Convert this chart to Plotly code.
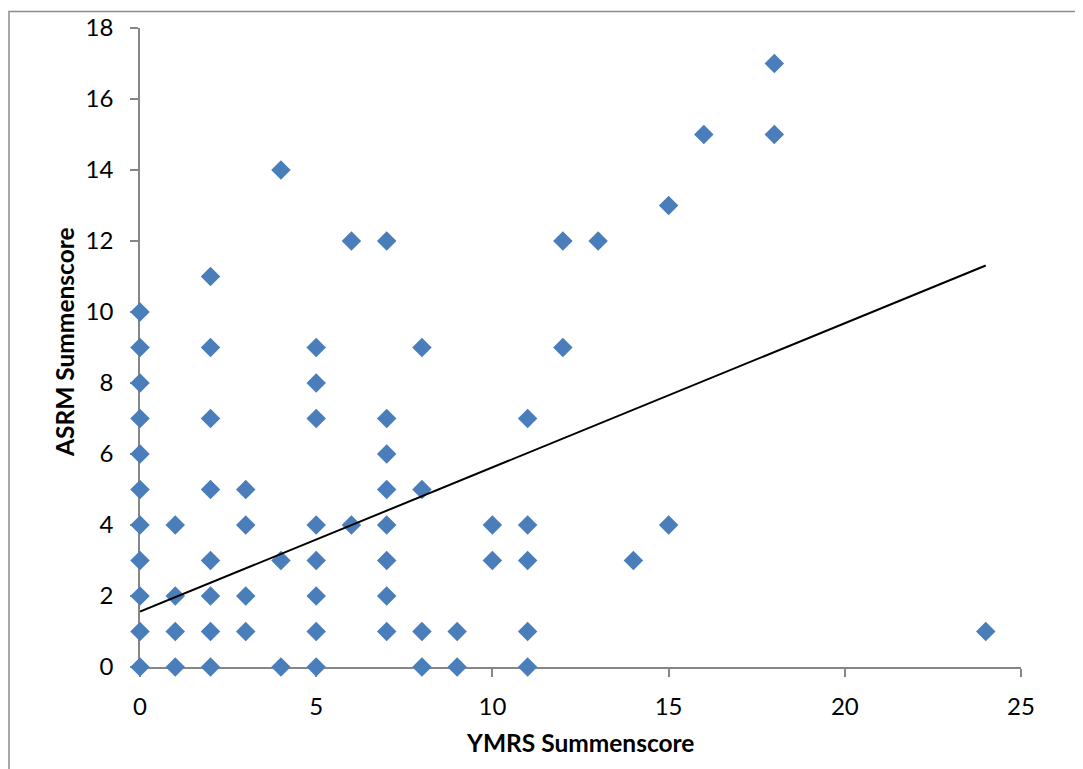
import plotly.graph_objects as go

# Data
ymrs = [0, 0, 0, 0, 0, 0, 0, 0, 0, 0, 0,
        1, 1, 1, 1,
        2, 2, 2, 2, 2, 2, 2, 2,
        3, 3, 3, 3,
        4, 4, 4,
        5, 5, 5, 5, 5, 5, 5, 5,
        6, 6,
        7, 7, 7, 7, 7, 7, 7, 7,
        8, 8, 8, 8,
        9, 9,
        10, 10,
        11, 11, 11, 11, 11,
        12, 12,
        13,
        14,
        15, 15,
        16,
        18, 18,
        24]
asrm = [0, 1, 2, 3, 4, 5, 6, 7, 8, 9, 10,
        0, 1, 2, 4,
        0, 1, 2, 3, 5, 7, 9, 11,
        1, 2, 4, 5,
        0, 3, 14,
        0, 1, 2, 3, 4, 7, 8, 9,
        4, 12,
        1, 2, 3, 4, 5, 6, 7, 12,
        0, 1, 5, 9,
        0, 1,
        3, 4,
        0, 1, 3, 4, 7,
        9, 12,
        12,
        3,
        4, 13,
        15,
        15, 17,
        1]

trend_x = [0, 24]
trend_y = [1.56, 11.31]

x_ticks = [0, 5, 10, 15, 20, 25]
y_ticks = [0, 2, 4, 6, 8, 10, 12, 14, 16, 18]

x_title = "YMRS Summenscore"
y_title = "ASRM Summenscore"

FONT = "Lato, 'Open Sans', sans-serif"
AXIS_COLOR = "#868686"

OFF = 8  # page body margin
W, H = 1083, 769
L = 140 - OFF
T = 28 - OFF
R = W - (1021 - OFF)
B = H - (667 - OFF)
pw, ph = W - L - R, H - T - B


def px_x(p):
    return (p - OFF - L) / pw


def px_y(p):
    return (H - B - (p - OFF)) / ph


fig = go.Figure()
fig.add_trace(go.Scatter(
    x=ymrs, y=asrm, mode="markers",
    marker=dict(symbol="diamond", size=15, color="#4A7EBB",
                line=dict(width=0)),
    cliponaxis=False, showlegend=False, hoverinfo="x+y"))
fig.add_trace(go.Scatter(
    x=trend_x, y=trend_y, mode="lines",
    line=dict(color="black", width=2),
    cliponaxis=False, showlegend=False))

fig.update_layout(
    width=W, height=H,
    margin=dict(l=L, r=R, t=T, b=B, autoexpand=False),
    paper_bgcolor="white", plot_bgcolor="white",
    font=dict(family=FONT, size=24, color="black"),
    xaxis=dict(range=[0, 25], tickvals=x_ticks, showgrid=False, zeroline=False,
               showline=True, linecolor=AXIS_COLOR, linewidth=1.5,
               ticks="outside", ticklen=8, tickcolor=AXIS_COLOR, tickwidth=1.5,
               ticklabelstandoff=9, layer="below traces", fixedrange=True,
               automargin=False),
    yaxis=dict(range=[0, 18], tickvals=y_ticks, showgrid=False, zeroline=False,
               showline=True, linecolor=AXIS_COLOR, linewidth=1.5,
               ticks="outside", ticklen=8, tickcolor=AXIS_COLOR, tickwidth=1.5,
               ticklabelstandoff=12, layer="below traces", fixedrange=True,
               automargin=False),
    annotations=[
        dict(text="<b>" + x_title + "</b>", xref="paper", yref="paper",
             x=px_x(580), y=px_y(742), xanchor="center", yanchor="middle",
             showarrow=False, font=dict(family=FONT, size=24.5, color="black")),
        dict(text="<b>" + y_title + "</b>", xref="paper", yref="paper",
             x=px_x(64), y=px_y(342), xanchor="center", yanchor="middle",
             textangle=-90, showarrow=False,
             font=dict(family=FONT, size=24.5, color="black")),
    ],
    shapes=[
        dict(type="rect", xref="paper", yref="paper",
             x0=px_x(9), x1=px_x(1100), y0=px_y(790), y1=px_y(11.5),
             line=dict(color="#8c8c8c", width=1.5), layer="below"),
    ],
)

fig.write_html("out.html")
